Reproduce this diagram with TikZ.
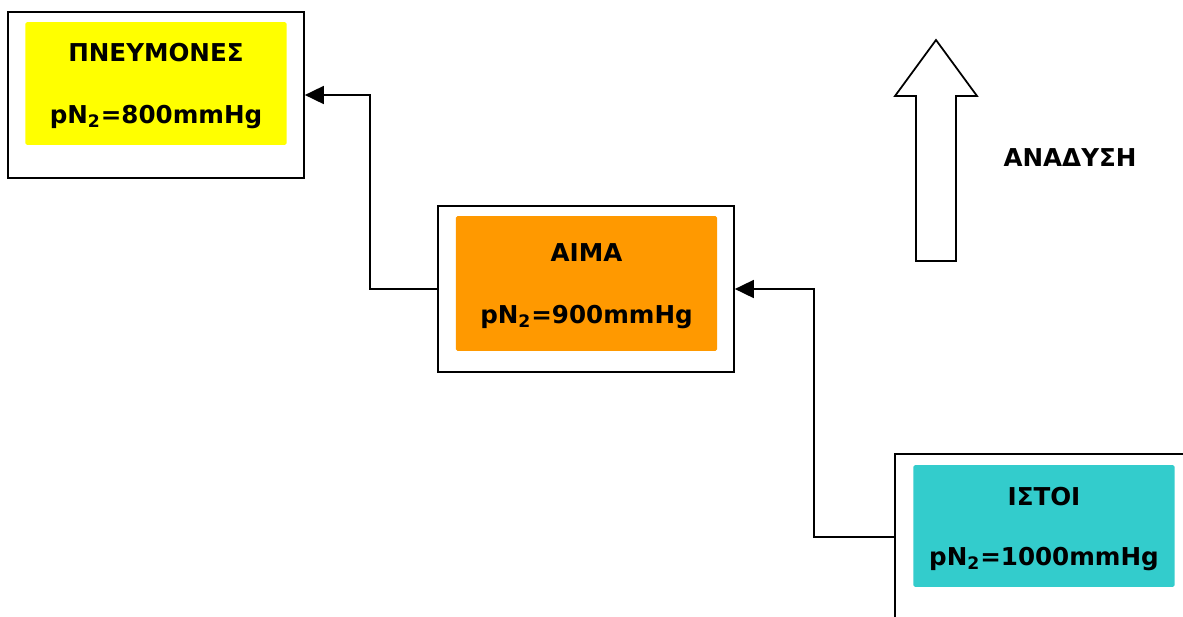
\documentclass[tikz,border=0pt]{standalone}
\usepackage{fontspec}
\setmainfont{DejaVu Sans}
\usepackage{xcolor}
\usetikzlibrary{arrows.meta, positioning}

\definecolor{lungyellow}{HTML}{FFFF00}
\definecolor{bloodorange}{HTML}{FF9900}
\definecolor{tissueteal}{HTML}{33CCCC}

\begin{document}
\begin{tikzpicture}[
      x=0.02cm, y=-0.02cm,
      font=\fontsize{14}{16.5}\selectfont\bfseries,
      frame/.style={draw, rectangle, line width=1pt, minimum width=5.92cm,
          minimum height=3.32cm, inner sep=0pt},
      fillbox/.style={rectangle, rounded corners=1pt, minimum width=5.23cm,
          inner sep=0pt, align=center, text depth=0pt},
      arr/.style={-{Triangle[length=0.38cm, width=0.36cm]}, line width=1pt},
    ]
    \clip (0,0) rectangle (1183,616);

    \node[frame] (lungs) at (156,95) {};
    \node[frame] (blood) at (586,289) {};
    \node[frame] (tissue) at (1043,537) {};

    \node[fillbox, fill=lungyellow, minimum height=2.46cm] (lungsin) at (156,83.5)
        {ΠΝΕΥΜΟΝΕΣ\\[0.66cm]pN\textsubscript{2}=800mmHg\rule[-3pt]{0pt}{0pt}};
    \node[fillbox, fill=bloodorange, minimum height=2.7cm] (bloodin) at (586.5,283.5)
        {ΑΙΜΑ\\[0.66cm]pN\textsubscript{2}=900mmHg};
    \node[fillbox, fill=tissueteal, minimum height=2.44cm] (tissuein) at (1044,526)
        {ΙΣΤΟΙ\\[0.62cm]pN\textsubscript{2}=1000mmHg};

    \draw[arr] (blood.west) -- ++(-67,0) |- (lungs.east);
    \draw[arr] (tissue.west) -- ++(-80,0) |- (blood.east);

    % block arrow
    \draw[line width=1pt, line join=miter] (916,261) -- (916,96) -- (895,96) -- (936,40)
        -- (977,96) -- (956,96) -- (956,261) -- cycle;
    \node (ascent) at (1070,158) {ΑΝΑΔΥΣΗ};

  \end{tikzpicture}
\end{document}
